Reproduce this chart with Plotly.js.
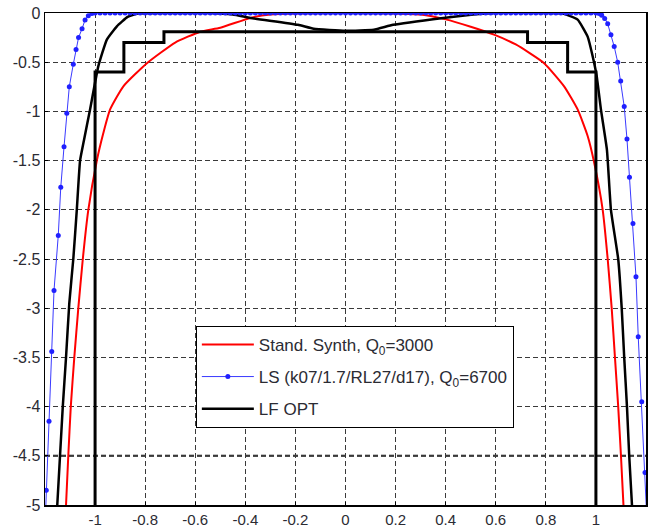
<!DOCTYPE html>
<html>
<head>
<meta charset="utf-8">
<script src="https://cdn.plot.ly/plotly-3.0.1.min.js"></script>
<style>html,body{margin:0;padding:0;background:#fff;}#chart{width:650px;height:527px;}</style>
</head>
<body>
<div id="chart"></div>
<script>
// Normalised frequency tick labels
const xTickVals = [-1, -0.8, -0.6, -0.4, -0.2, 0, 0.2, 0.4, 0.6, 0.8, 1];
const xTickText = ["-1", "-0.8", "-0.6", "-0.4", "-0.2", "0", "0.2", "0.4", "0.6", "0.8", "1"];
const yTickVals = [0, -0.5, -1, -1.5, -2, -2.5, -3, -3.5, -4, -4.5, -5];
const yTickText = ["0", "-0.5", "-1", "-1.5", "-2", "-2.5", "-3", "-3.5", "-4", "-4.5", "-5"];

// Stand. Synth, Q0=3000 (red)
const redX = [-1.116, -1.107, -1.097, -1.083, -1.067, -1.049, -1.027, -0.993, -0.967, -0.94, -0.887, -0.793, -0.68, -0.58, -0.5, -0.38, -0.3, -0.2, 0, 0.2, 0.3, 0.4, 0.5, 0.593, 0.68, 0.793, 0.873, 0.927, 0.967, 0.993, 1.027, 1.047, 1.063, 1.076, 1.089, 1.1, 1.11];
const redY = [-5.0, -4.5, -4.0, -3.5, -3.0, -2.5, -2.0, -1.5, -1.22, -0.98, -0.745, -0.51, -0.3, -0.19, -0.15, -0.05, -0.016, -0.005, 0, -0.005, -0.016, -0.065, -0.14, -0.22, -0.32, -0.51, -0.745, -0.98, -1.25, -1.52, -2.0, -2.5, -3.0, -3.5, -4.0, -4.5, -5.0];

// LS (k07/1.7/RL27/d17), Q0=6700 (blue, dotted samples)
const blueX = [-1.207, -1.195, -1.184, -1.173, -1.164, -1.147, -1.137, -1.124, -1.113, -1.103, -1.087, -1.076, -1.066, -1.052, -1.04, -1.027, -1.013, -1.0,
  -0.98, -0.96, -0.94, -0.92, -0.9, -0.88, -0.86, -0.84, -0.82, -0.8, -0.78, -0.76, -0.74, -0.72, -0.7, -0.68, -0.66, -0.64, -0.62, -0.6,
  -0.58, -0.56, -0.54, -0.52, -0.5, -0.48, -0.46, -0.44, -0.42, -0.4, -0.38, -0.36, -0.34, -0.32, -0.3, -0.28, -0.26, -0.24, -0.22, -0.2,
  -0.18, -0.16, -0.14, -0.12, -0.1, -0.08, -0.06, -0.04, -0.02, 0, 0.02, 0.04, 0.06, 0.08, 0.1, 0.12, 0.14, 0.16, 0.18, 0.2,
  0.22, 0.24, 0.26, 0.28, 0.3, 0.32, 0.34, 0.36, 0.38, 0.4, 0.42, 0.44, 0.46, 0.48, 0.5, 0.52, 0.54, 0.56, 0.58, 0.6,
  0.62, 0.64, 0.66, 0.68, 0.7, 0.72, 0.74, 0.76, 0.78, 0.8, 0.82, 0.84, 0.86, 0.88, 0.9, 0.92, 0.94, 0.96, 0.98,
  1.0, 1.013, 1.023, 1.035, 1.047, 1.06, 1.073, 1.087, 1.099, 1.113, 1.124, 1.134, 1.148, 1.16, 1.169, 1.183, 1.196, 1.21];
const blueY = [-5.7, -4.85, -4.15, -3.44, -2.82, -2.26, -1.77, -1.36, -1.02, -0.75, -0.52, -0.37, -0.25, -0.16, -0.07, -0.027, -0.005, 0,
  0, 0, 0, 0, 0, 0, 0, 0, 0, 0, 0, 0, 0, 0, 0, 0, 0, 0, 0, 0,
  0, 0, 0, 0, 0, 0, 0, 0, 0, 0, 0, 0, 0, 0, 0, 0, 0, 0, 0, 0,
  0, 0, 0, 0, 0, 0, 0, 0, 0, 0, 0, 0, 0, 0, 0, 0, 0, 0, 0, 0,
  0, 0, 0, 0, 0, 0, 0, 0, 0, 0, 0, 0, 0, 0, 0, 0, 0, 0, 0, 0,
  0, 0, 0, 0, 0, 0, 0, 0, 0, 0, 0, 0, 0, 0, 0, 0, 0, 0, 0,
  0, -0.006, -0.022, -0.055, -0.11, -0.22, -0.34, -0.5, -0.69, -0.95, -1.28, -1.67, -2.14, -2.68, -3.29, -3.95, -4.67, -5.5];

// LF OPT (black, smooth response)
const lfX = [-1.151, -1.14, -1.129, -1.116, -1.103, -1.087, -1.073, -1.06, -1.045, -1.02, -0.987, -0.953, -0.913, -0.87, -0.83, -0.7, -0.55, -0.45, -0.38, -0.19, -0.127, 0, 0.113, 0.19, 0.39, 0.51, 0.6, 0.8, 0.867, 0.927, 0.967, 0.987, 1.003, 1.02, 1.044, 1.06, 1.089, 1.103, 1.113, 1.124, 1.133, 1.144];
const lfY = [-5.0, -4.5, -4.0, -3.5, -2.95, -2.5, -2.0, -1.5, -1.3, -0.98, -0.54, -0.27, -0.135, -0.04, -0.005, 0, 0, -0.015, -0.05, -0.12, -0.16, -0.18, -0.17, -0.12, -0.05, -0.015, 0, 0, -0.005, -0.067, -0.24, -0.44, -0.64, -0.98, -1.39, -2.0, -2.5, -3.0, -3.5, -4.0, -4.5, -5.0];

// LF OPT (black, stepped mask)
const stepX = [-1, -1, -0.885, -0.885, -0.725, -0.725, 0.727, 0.727, 0.887, 0.887, 1, 1];
const stepY = [-5, -0.6, -0.6, -0.3, -0.3, -0.19, -0.19, -0.3, -0.3, -0.6, -0.6, -5];

const traces = [
  {x: redX, y: redY, type: 'scatter', mode: 'lines', name: 'Stand. Synth, Q<sub>0</sub>=3000',
   line: {color: '#ff0000', width: 2, shape: 'spline', smoothing: 0.5}, legendrank: 1, legendgroup: 'a'},
  {x: stepX, y: stepY, type: 'scatter', mode: 'lines', name: 'LF OPT mask', showlegend: false,
   line: {color: '#000000', width: 3}, legendgroup: 'c'},
  {x: lfX, y: lfY, type: 'scatter', mode: 'lines', name: 'LF OPT',
   line: {color: '#000000', width: 2.5, shape: 'spline', smoothing: 0.4}, legendrank: 3, legendgroup: 'c'},
  {x: blueX, y: blueY, type: 'scatter', mode: 'lines+markers', name: 'LS (k07/1.7/RL27/d17), Q<sub>0</sub>=6700',
   line: {color: '#3a3aff', width: 1}, marker: {color: '#2020ff', size: 5}, legendrank: 2, legendgroup: 'b'}
];

const layout = {
  width: 650, height: 527,
  margin: {l: 45, r: 4, t: 13, b: 22, pad: 0},
  paper_bgcolor: '#ffffff', plot_bgcolor: '#ffffff',
  font: {family: 'Liberation Sans, Arial, sans-serif', size: 16, color: '#2b2b33'},
  showlegend: true,
  legend: {x: 0.251, y: 0.364, xanchor: 'left', yanchor: 'top',
    bgcolor: '#ffffff', bordercolor: '#000000', borderwidth: 1,
    font: {size: 17, color: '#2b2b33'}, traceorder: 'grouped', tracegroupgap: 7,
    itemwidth: 52},
  xaxis: {range: [-1.2, 1.2], tickvals: xTickVals, ticktext: xTickText,
    showgrid: true, gridcolor: '#3a3a3a', gridwidth: 1, griddash: '5px,3px',
    zeroline: false, showline: true, linecolor: '#000000', linewidth: 1.5, mirror: true,
    ticks: 'inside', ticklen: 3, tickcolor: '#000', tickfont: {size: 15}},
  yaxis: {range: [-5, 0], tickvals: yTickVals, ticktext: yTickText,
    showgrid: true, gridcolor: '#3a3a3a', gridwidth: 1, griddash: '5px,3px',
    zeroline: false, showline: true, linecolor: '#000000', linewidth: 1.5, mirror: true,
    ticks: 'inside', ticklen: 3, tickcolor: '#000', tickfont: {size: 16}},
  shapes: [
    {type: 'line', xref: 'paper', x0: 0, x1: 1, yref: 'y', y0: -4.5, y1: -4.5,
     line: {color: '#111111', width: 2, dash: '5px,3px'}, layer: 'below'}
  ]
};

Plotly.newPlot('chart', traces, layout, {displayModeBar: false, staticPlot: true});
</script>
</body>
</html>
